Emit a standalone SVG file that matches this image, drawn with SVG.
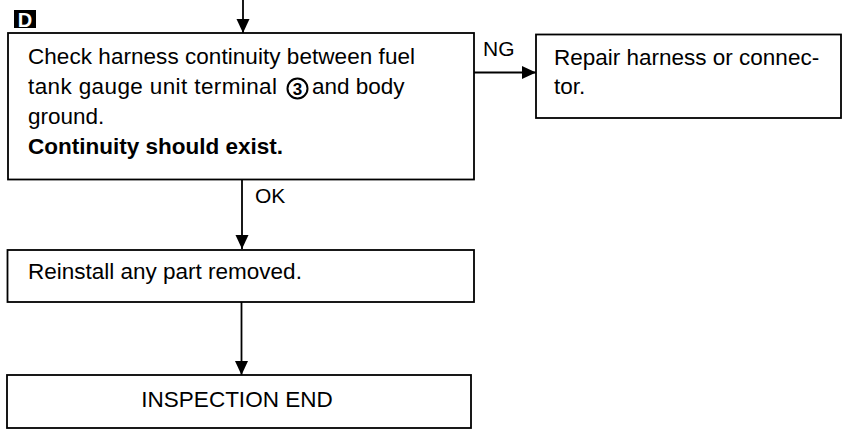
<svg xmlns="http://www.w3.org/2000/svg" width="850" height="429" viewBox="0 0 850 429">
<style>
.box{fill:#fff;stroke:#000;stroke-width:1.8}
.t{font-family:"Liberation Sans",Arial,sans-serif;font-size:22.5px;fill:#000}
.b{font-weight:bold}
.lbl{font-family:"Liberation Sans",Arial,sans-serif;font-size:21px;fill:#000}
.c{fill:none;stroke:#000;stroke-width:1.8}
</style>
<defs>
<marker id="ah" markerUnits="userSpaceOnUse" markerWidth="16" markerHeight="14" refX="14" refY="6.5" orient="auto">
<path d="M0,0 L14,6.5 L0,13 Z" fill="#000"/>
</marker>
</defs>
<rect width="850" height="429" fill="#fff"/>
<g id="badge">
<rect x="14" y="10" width="22" height="18" fill="#000"/>
<text x="25" y="26.5" text-anchor="middle" font-family="'Liberation Sans',Arial,sans-serif" font-size="20" font-weight="bold" fill="#fff">D</text>
</g>
<g id="connectors">
<line class="c" x1="243" y1="0" x2="243" y2="33" marker-end="url(#ah)"/>
<line class="c" x1="474" y1="72.5" x2="536" y2="72.5" marker-end="url(#ah)"/>
<line class="c" x1="242" y1="180" x2="242" y2="249" marker-end="url(#ah)"/>
<line class="c" x1="241.5" y1="302" x2="241.5" y2="375" marker-end="url(#ah)"/>
<text class="lbl" x="483" y="56">NG</text>
<text class="lbl" x="255" y="203">OK</text>
</g>
<g id="check">
<rect class="box" x="8" y="33" width="466" height="146.5"/>
<text class="t" x="28" y="64" textLength="387" lengthAdjust="spacing">Check harness continuity between fuel</text>
<text class="t" x="28" y="93.5" textLength="249" lengthAdjust="spacing">tank gauge unit terminal</text>
<circle cx="297.5" cy="88.5" r="10" fill="none" stroke="#000" stroke-width="2"/>
<text x="297.5" y="94.5" text-anchor="middle" font-family="'Liberation Sans',Arial,sans-serif" font-size="17" font-weight="bold">3</text>
<text class="t" x="312" y="93.5">and body</text>
<text class="t" x="28" y="124">ground.</text>
<text class="t b" x="28" y="154">Continuity should exist.</text>
</g>
<g id="repair">
<rect class="box" x="536" y="34.5" width="305" height="83.5"/>
<text class="t" x="554" y="65">Repair harness or connec-</text>
<text class="t" x="554" y="94">tor.</text>
</g>
<g id="reinstall">
<rect class="box" x="7.5" y="250" width="466.5" height="52"/>
<text class="t" x="28" y="279">Reinstall any part removed.</text>
</g>
<g id="end">
<rect class="box" x="7" y="375" width="464" height="53"/>
<text class="t" x="237" y="407" text-anchor="middle">INSPECTION END</text>
</g>
</svg>
